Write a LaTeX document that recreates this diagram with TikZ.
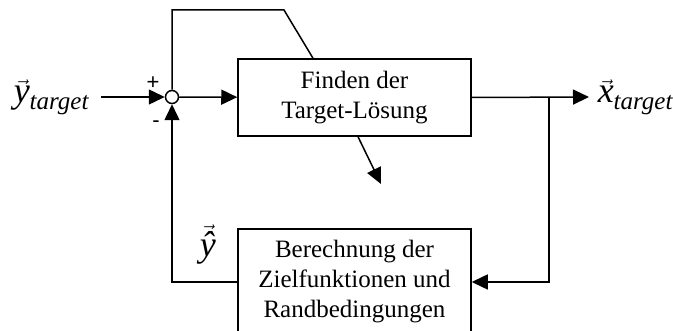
\documentclass[tikz,border=0pt]{standalone}
\usepackage{fontspec}
\setmainfont{Liberation Serif}[ItalicFont={Liberation Serif Italic}]
\newfontfamily\signfont{Liberation Sans}
\usetikzlibrary{arrows.meta}
% vector arrow over a text box
\newcommand\arrowover[1]{\ensuremath{\vec{\mbox{#1}}}}
\newcommand\subtext[1]{\raisebox{-7pt}{\fontsize{25}{25}\selectfont\itshape #1}}

\begin{document}
\begin{tikzpicture}[x=1pt,y=-1pt,
  line width=1.5pt,
  sig/.style={-{Triangle[length=16pt,width=15pt]}},
  block/.style={draw, minimum width=233pt, align=center,
    font=\fontsize{25}{30}\selectfont, inner sep=0pt},
  sumpt/.style={draw, circle, fill=white, minimum size=13pt, inner sep=0pt},
  lbl/.style={font=\fontsize{36}{36}\selectfont\itshape, inner sep=0pt, anchor=base west},
  signlbl/.style={font=\signfont\fontsize{22}{22}\selectfont, inner sep=0pt}
]
\useasboundingbox (0,0) rectangle (673,331);

% blocks
\node[block, minimum height=77pt] (find) at (354.5,97.5) {Finden der\\Target-Lösung};
\node[block, minimum height=106pt] (calc) at (354.5,282) {Berechnung der\\Zielfunktionen und\\Randbedingungen};

% summing point
\node[sumpt] (sum) at (172,97) {};

% helper points
\coordinate (yin) at (101,97);
\coordinate (xout) at (589,97);
\coordinate (branch) at (549,97);
\coordinate (kink) at (284,10);
\coordinate (tap) at (313,0);
\coordinate (tail) at (358,0);
\coordinate (outl) at (381,184);

% signal lines
\draw[sig] (yin) -- (sum);
\draw[sig] (sum) -- (find);
\draw[sig] (find.east) -- (xout);
\draw[sig] (branch) |- (calc.east);
\draw[sig] (calc.west) -| (sum.south);
\draw (sum.north) |- (kink) -- (find.north -| tap);
\draw[sig] (find.south -| tail) -- (outl);

% signs at the summing point
\node[signlbl] (plus) at (153,83) {+};
\node[signlbl] (minus) at (156,124) {-};

% signal names
\node[lbl] (ytgt) at (13,103) {\arrowover{y}\subtext{target}};
\node[lbl] (xtgt) at (597,103) {\arrowover{x}\subtext{target}};
\node[lbl] (yhat) at (199,257) {\arrowover{\^y}};
\end{tikzpicture}
\end{document}
